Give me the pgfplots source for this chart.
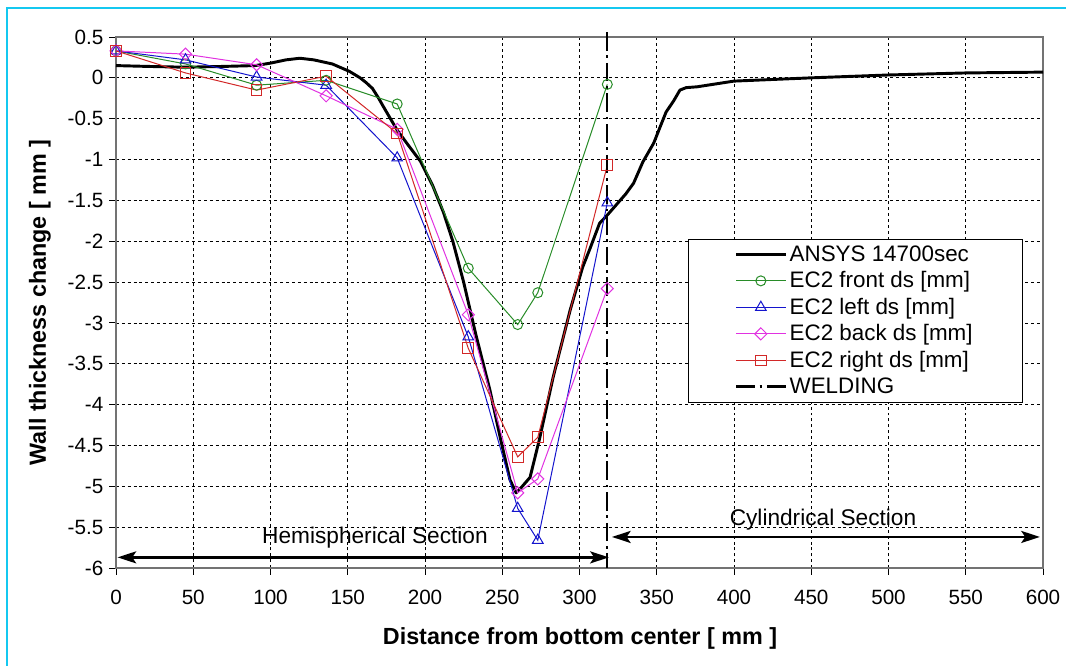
\documentclass[border=0pt]{standalone}
\usepackage{fontspec}
\setmainfont{Liberation Sans}
\usepackage{pgfplots}
\pgfplotsset{compat=1.18}
\usetikzlibrary{arrows.meta}
\definecolor{cgreen}{RGB}{40,140,40}
\definecolor{cblue}{RGB}{20,20,205}
\definecolor{cmag}{RGB}{225,50,225}
\definecolor{cred}{RGB}{210,40,40}
\definecolor{framecyan}{RGB}{20,200,240}
\begin{document}
\begin{tikzpicture}
\useasboundingbox (0,0) rectangle (799.5pt,499.5pt);
\draw[framecyan, line width=1.5pt] (5.25pt,-2pt) -- (5.25pt,493.5pt) -- (802pt,493.5pt);
\begin{axis}[
  at={(87pt,73.5pt)}, anchor=south west,
  width=695.25pt, height=398.25pt, scale only axis,
  xmin=0, xmax=600, ymin=-6, ymax=0.5,
  clip=false,
  xtick={0,50,100,150,200,250,300,350,400,450,500,550,600},
  ytick={-6,-5.5,-5,-4.5,-4,-3.5,-3,-2.5,-2,-1.5,-1,-0.5,0,0.5},
  tick pos=left, tick align=outside,
  major tick length=5pt,
  tick style={black, line width=0.7pt},
  /pgf/number format/assume math mode=true,
  /pgf/number format/fixed,
  ticklabel style={font=\fontsize{15.5}{18}\selectfont},
  xticklabel style={yshift=-8pt},
  yticklabel style={xshift=-1pt},
  grid=major,
  major grid style={black, line width=0.6pt, dash pattern=on 2.2pt off 2.2pt},
  axis line style={gray!90!black, line width=1pt},
  legend style={at={(axis cs:370,-1.97)}, anchor=north west,
    draw=black, line width=0.6pt, fill=white,
    font=\fontsize{16.8}{19.3}\selectfont,
    inner xsep=35pt, inner ysep=3pt, row sep=2.2pt},
  legend cell align=left,
  legend image code/.code={\draw[mark repeat=2,mark phase=2] plot coordinates {(0cm,0cm)(0.65cm,0cm)(1.3cm,0cm)};},
]
\addplot[black, line width=2.2pt, line join=round] coordinates {
(0,0.15)(20,0.14)(45,0.13)(70,0.14)(90,0.15)(100,0.18)(110,0.22)(119,0.24)
(128,0.22)(140,0.17)(151,0.08)(158,0.0)(162,-0.06)(166,-0.13)(170,-0.25)
(173,-0.35)(177,-0.48)(182,-0.64)(189,-0.82)(197,-1.02)(205,-1.32)(212,-1.65)
(218,-2.0)(225,-2.5)(233,-3.15)(242,-3.82)(249,-4.43)(255,-4.92)
(259,-5.08)(263,-5.0)(268,-4.89)(274,-4.43)(283,-3.66)(294,-2.84)(302,-2.32)
(307,-2.08)(313,-1.78)(318,-1.68)(324,-1.55)(330,-1.42)(335,-1.29)(341,-1.03)(348,-0.80)
(356,-0.42)(361,-0.28)(365,-0.15)(369,-0.12)(376,-0.11)(400,-0.04)(450,0.0)
(500,0.035)(550,0.06)(600,0.07)};
\addlegendentry{ANSYS 14700sec}
\addplot[cgreen, line width=0.75pt, mark=o, mark size=3.75pt, mark options={solid, fill=white}] coordinates {
(0,0.33)(45,0.17)(91,-0.09)(136,-0.03)(182,-0.32)(228,-2.33)(260,-3.02)(273,-2.63)(318,-0.08)};
\addlegendentry{EC2 front ds [mm]}
\addplot[cblue, line width=0.75pt, mark=triangle, mark size=4.6pt, mark options={solid, fill=white}] coordinates {
(0,0.33)(45,0.22)(91,0.01)(136,-0.09)(182,-0.98)(228,-3.17)(260,-5.27)(273,-5.66)(318,-1.53)};
\addlegendentry{EC2 left ds [mm]}
\addplot[cmag, line width=0.75pt, mark=square, mark size=3.2pt, mark options={solid, fill=white, rotate=45}] coordinates {
(0,0.33)(45,0.29)(91,0.16)(136,-0.22)(182,-0.63)(228,-2.90)(260,-5.08)(273,-4.91)(318,-2.58)};
\addlegendentry{EC2 back ds [mm]}
\addplot[cred, line width=0.75pt, mark=square, mark size=4pt, mark options={solid, fill=white}] coordinates {
(0,0.33)(45,0.06)(91,-0.15)(136,0.02)(182,-0.68)(228,-3.31)(260,-4.64)(273,-4.40)(318,-1.07)};
\addlegendentry{EC2 right ds [mm]}
\addplot[black, line width=1.6pt, dash pattern=on 14pt off 3.5pt on 2pt off 3.5pt] coordinates {(318,0.56)(318,-6)};
\addlegendentry{WELDING}
\draw[black, line width=1.8pt, {Stealth[length=14pt,width=9pt,inset=3pt]}-{Stealth[length=14pt,width=9pt,inset=3pt]}] (axis cs:1,-5.87) -- (axis cs:319,-5.87);
\draw[black, line width=1.8pt, {Stealth[length=14pt,width=9pt,inset=3pt]}-{Stealth[length=14pt,width=9pt,inset=3pt]}] (axis cs:321,-5.62) -- (axis cs:598,-5.62);
\node[font=\fontsize{17}{20}\selectfont] at (axis cs:167.6,-5.63) {Hemispherical Section};
\node[font=\fontsize{17}{20}\selectfont] at (axis cs:457.6,-5.41) {Cylindrical Section};
\end{axis}
\node[font=\bfseries\fontsize{17.5}{21}\selectfont] at (435pt,21pt) {Distance from bottom center [ mm ]};
\node[font=\bfseries\fontsize{17.5}{21}\selectfont, rotate=90] at (30pt,272.6pt) {Wall thickness change [ mm ]};
\end{tikzpicture}
\end{document}
